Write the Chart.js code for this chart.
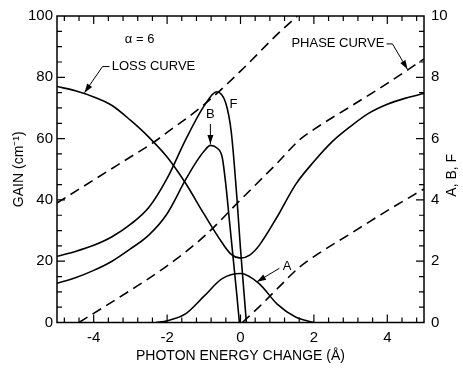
<!DOCTYPE html>
<html>
<head>
<meta charset="utf-8">
<script src="https://cdn.jsdelivr.net/npm/chart.js@4/dist/chart.umd.min.js"></script>
<style>
  html, body { margin: 0; padding: 0; background: #fff; }
  canvas { display: block; }
</style>
</head>
<body>
<canvas id="chart" width="463" height="374"></canvas>
<script>
// tick labels
const energyTicks = [-4, -2, 0, 2, 4];
const gainTicks = [0, 20, 40, 60, 80, 100];
const abfTicks = [0, 2, 4, 6, 8, 10];

// loss curve, gain (cm-1)
const lossE = [-5, -4.5, -4, -3.5, -3, -2.5, -2, -1.5, -1, -0.5, -0.25, 0, 0.25, 0.5, 1, 1.5, 2, 2.5, 3, 3.5, 4, 4.5, 5];
const lossG = [77, 75.6, 73.6, 70.8, 66, 60.5, 54, 45.5, 35.5, 26, 22.2, 21, 22, 25, 34.5, 45, 52.5, 59, 64, 68.3, 71.2, 73.2, 74.7];

// phase curve, three branches
const phase1E = [-5, -4, -3, -2.4, -2, -1, 0, 1, 1.55];
const phase1G = [39, 46.5, 54, 58.5, 62, 71, 82, 94, 100];
const phase2E = [-4.4, -4, -3, -2, -1, 0, 0.5, 1, 1.6, 2, 3, 4, 5];
const phase2G = [0, 3, 10.5, 18.5, 28, 40, 46, 52, 59.5, 63, 70.5, 78, 86];
const phase3E = [0.05, 0.5, 1, 1.6, 2, 3, 4, 5];
const phase3G = [0, 5, 11, 18, 21.5, 29, 36.5, 43.6];

// A, B, F (right axis)
const aE = [-2.3, -2, -1.5, -1, -0.5, 0, 0.5, 1, 1.5, 2];
const aV = [0, 0.06, 0.28, 0.85, 1.43, 1.6, 1.28, 0.6, 0.18, 0];
const bE = [-5, -4.5, -4, -3.5, -3, -2.5, -2, -1.5, -1.2, -1, -0.82, -0.65, -0.5, -0.4, -0.3, -0.2, -0.1, -0.03];
const bV = [1.28, 1.46, 1.7, 2.0, 2.4, 2.85, 3.55, 4.65, 5.25, 5.58, 5.78, 5.7, 5.4, 4.5, 3.3, 2.1, 0.9, 0];
const fE = [-5, -4.5, -4, -3.5, -3, -2.5, -2, -1.5, -1, -0.65, -0.4, -0.25, -0.1, 0, 0.08, 0.16];
const fV = [2.16, 2.32, 2.52, 2.8, 3.2, 3.75, 4.7, 5.95, 7.05, 7.53, 7.15, 6.2, 4.1, 2.4, 1.2, 0];

const FONT = "'Liberation Sans', Arial, Helvetica, sans-serif";

function pts(xs, ys) {
  return xs.map((x, i) => ({ x: x, y: ys[i] }));
}

function curve(xs, ys, axis, dashed) {
  return {
    data: pts(xs, ys),
    yAxisID: axis,
    borderColor: "#000",
    borderWidth: 1.6,
    borderDash: dashed ? [10, 6] : [],
    pointRadius: 0,
    fill: false,
    cubicInterpolationMode: "monotone",
  };
}

// inward ticks + box around the plot
const frameTicks = {
  id: "frameTicks",
  afterDraw(chart) {
    const { ctx, chartArea: a, scales } = chart;
    ctx.save();
    ctx.strokeStyle = "#000";
    ctx.lineWidth = 1.5;
    ctx.strokeRect(a.left, a.top, a.right - a.left, a.bottom - a.top);
    ctx.lineWidth = 1.2;
    ctx.beginPath();
    for (let v = -4.8; v < 5; v += 0.4) {
      const major = energyTicks.some((t) => Math.abs(t - v) < 1e-6);
      const len = major ? 8 : 5;
      const px = scales.x.getPixelForValue(v);
      ctx.moveTo(px, a.bottom);
      ctx.lineTo(px, a.bottom - len);
      ctx.moveTo(px, a.top);
      ctx.lineTo(px, a.top + len);
    }
    for (let v = 5; v < 100; v += 5) {
      const len = v % 20 === 0 ? 8 : 5;
      const py = scales.y.getPixelForValue(v);
      ctx.moveTo(a.left, py);
      ctx.lineTo(a.left + len, py);
      ctx.moveTo(a.right, py);
      ctx.lineTo(a.right - len, py);
    }
    ctx.stroke();
    ctx.restore();
  },
};

// text labels and arrows, placed in data units
const notes = {
  id: "notes",
  afterDraw(chart) {
    const { ctx, scales } = chart;
    const X = (v) => scales.x.getPixelForValue(v);
    const Y = (v) => scales.y.getPixelForValue(v);
    ctx.save();
    ctx.fillStyle = "#000";
    ctx.strokeStyle = "#000";
    ctx.font = "13px " + FONT;
    ctx.textBaseline = "middle";

    ctx.textAlign = "center";
    ctx.fillText("\u03b1 = 6", X(-2.75), Y(92.5));
    ctx.textAlign = "left";
    ctx.fillText("LOSS CURVE", X(-3.51), Y(83.5));
    ctx.textAlign = "right";
    ctx.fillText("PHASE CURVE", X(3.92), Y(90.9));
    ctx.textAlign = "center";
    ctx.fillText("F", X(-0.19), Y(71.2));
    ctx.fillText("B", X(-0.82), Y(67.9));
    ctx.fillText("A", X(1.27), Y(18.3));

    function arrow(path) {
      ctx.lineWidth = 1;
      ctx.beginPath();
      ctx.moveTo(X(path[0][0]), Y(path[0][1]));
      for (let i = 1; i < path.length; i++) ctx.lineTo(X(path[i][0]), Y(path[i][1]));
      ctx.stroke();
      const n = path.length;
      const x1 = X(path[n - 2][0]), y1 = Y(path[n - 2][1]);
      const x2 = X(path[n - 1][0]), y2 = Y(path[n - 1][1]);
      const ang = Math.atan2(y2 - y1, x2 - x1);
      ctx.beginPath();
      ctx.moveTo(x2, y2);
      ctx.lineTo(x2 - 9 * Math.cos(ang) + 3 * Math.sin(ang), y2 - 9 * Math.sin(ang) - 3 * Math.cos(ang));
      ctx.lineTo(x2 - 9 * Math.cos(ang) - 3 * Math.sin(ang), y2 - 9 * Math.sin(ang) + 3 * Math.cos(ang));
      ctx.closePath();
      ctx.fill();
    }
    arrow([[-3.57, 83.5], [-3.76, 83.5], [-4.25, 75]]);
    arrow([[3.98, 90.9], [4.14, 90.9], [4.55, 82.6]]);
    arrow([[-0.82, 64.8], [-0.82, 58.2]]);
    arrow([[1.06, 17.7], [0.45, 13.3]]);

    // right axis title, reads bottom to top
    ctx.font = "14px " + FONT;
    ctx.textAlign = "center";
    ctx.translate(452, (chart.chartArea.top + chart.chartArea.bottom) / 2 + 6);
    ctx.rotate(-Math.PI / 2);
    ctx.fillText("A, B, F", 0, 0);
    ctx.restore();
  },
};

const tickFont = { family: FONT, size: 15 };

new Chart(document.getElementById("chart"), {
  type: "line",
  data: {
    datasets: [
      curve(lossE, lossG, "y", false),
      curve(phase1E, phase1G, "y", true),
      curve(phase2E, phase2G, "y", true),
      curve(phase3E, phase3G, "y", true),
      curve(aE, aV, "y2", false),
      curve(bE, bV, "y2", false),
      curve(fE, fV, "y2", false),
    ],
  },
  options: {
    responsive: false,
    animation: false,
    events: [],
    layout: { padding: { top: 14, left: 0, right: 0, bottom: 0 } },
    plugins: {
      legend: { display: false },
      tooltip: { enabled: false },
    },
    scales: {
      x: {
        type: "linear",
        position: "bottom",
        min: -5,
        max: 5,
        grid: { display: false, drawTicks: false },
        border: { display: false },
        afterBuildTicks: (s) => { s.ticks = energyTicks.map((v) => ({ value: v })); },
        afterFit: (s) => { s.height = 51.5; },
        ticks: { font: tickFont, color: "#000", padding: 6, maxRotation: 0 },
        title: {
          display: true,
          text: "PHOTON ENERGY CHANGE (\u00c5)",
          color: "#000",
          font: { family: FONT, size: 14 },
          padding: { top: 0, bottom: 9 },
        },
      },
      y: {
        position: "left",
        min: 0,
        max: 100,
        grid: { display: false, drawTicks: false },
        border: { display: false },
        afterBuildTicks: (s) => { s.ticks = gainTicks.map((v) => ({ value: v })); },
        afterFit: (s) => { s.width = 57; },
        ticks: { font: tickFont, color: "#000", padding: 4 },
        title: {
          display: true,
          text: "GAIN (cm\u207b\u00b9)",
          color: "#000",
          font: { family: FONT, size: 14 },
          padding: { top: 11, bottom: 0 },
        },
      },
      y2: {
        position: "right",
        min: 0,
        max: 10,
        grid: { display: false, drawTicks: false },
        border: { display: false },
        afterBuildTicks: (s) => { s.ticks = abfTicks.map((v) => ({ value: v })); },
        afterFit: (s) => { s.width = 39; },
        ticks: { font: tickFont, color: "#000", padding: 7 },
      },
    },
  },
  plugins: [frameTicks, notes],
});
</script>
</body>
</html>
